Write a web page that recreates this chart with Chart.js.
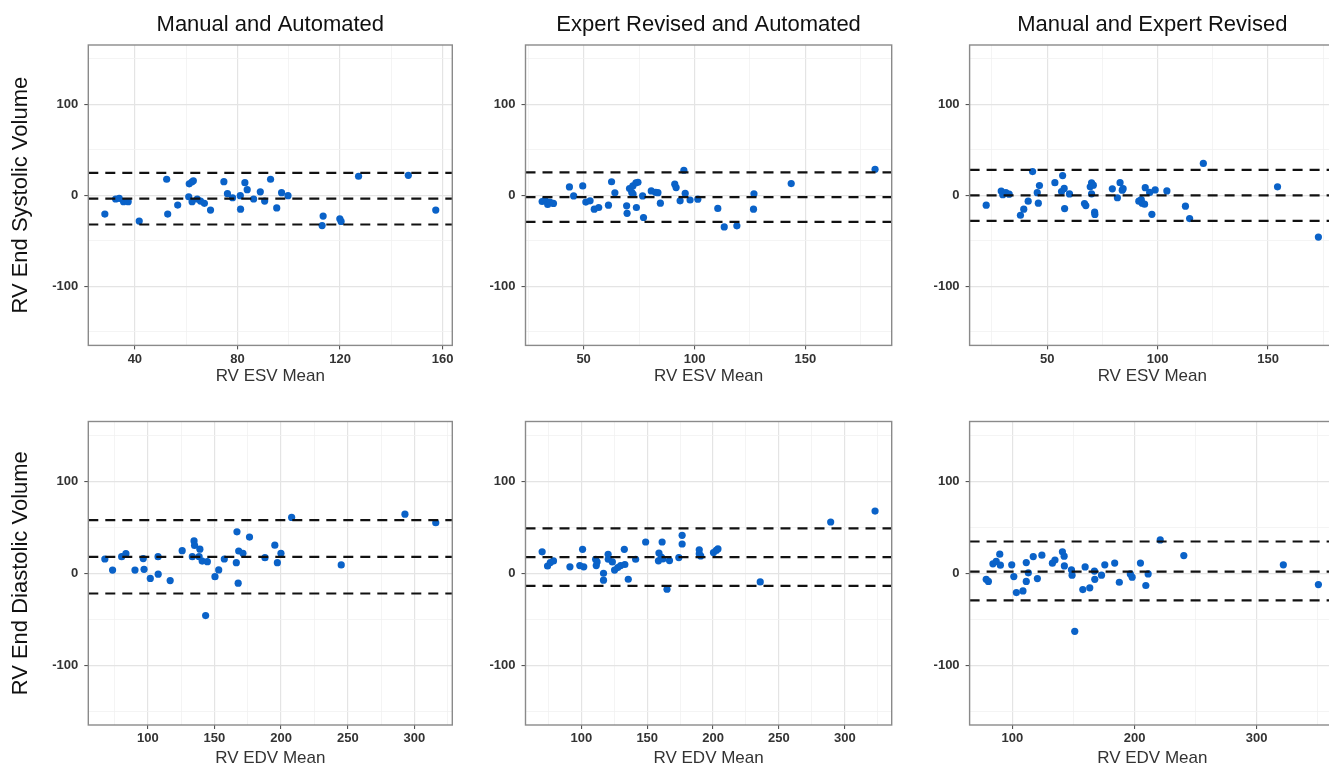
<!DOCTYPE html>
<html>
<head>
<meta charset="utf-8">
<title>RV volume agreement</title>
<script src="https://cdn.jsdelivr.net/npm/chart.js@4.4.1/dist/chart.umd.min.js"></script>
<style>
  html, body { margin: 0; padding: 0; background: #fff; overflow: hidden; width: 1329px; height: 767px; }
  canvas { position: absolute; display: block; }
</style>
</head>
<body>
<canvas id="esv-ma" width="462" height="395" style="left:0px;top:0px"></canvas>
<canvas id="esv-ea" width="444" height="395" style="left:462px;top:0px"></canvas>
<canvas id="esv-me" width="444" height="395" style="left:906px;top:0px"></canvas>
<canvas id="edv-ma" width="462" height="380" style="left:0px;top:395px"></canvas>
<canvas id="edv-ea" width="444" height="380" style="left:462px;top:395px"></canvas>
<canvas id="edv-me" width="444" height="380" style="left:906px;top:395px"></canvas>
<script>
// ---- labels ----
const panelTitles = ['Manual and Automated', 'Expert Revised and Automated', 'Manual and Expert Revised'];
const rowTitles = ['RV End Systolic Volume', 'RV End Diastolic Volume'];
const xAxisTitles = ['RV ESV Mean', 'RV EDV Mean'];

// ---- Bland-Altman points: [mean of the two methods, difference] ----
const esvManualAuto = [
  [28.3,-20.7],[32.5,-4.2],[33.9,-3.4],[35.6,-7.1],[37.4,-7.1],[41.7,-28.4],[52.4,17.5],[52.8,-20.7],
  [56.7,-10.8],[61.2,12.5],[62.2,14.5],[62.8,15.8],[61.0,-1.7],[62.3,-7.1],[64.3,-4.2],[65.6,-6.4],
  [67.1,-8.9],[69.5,-16.3],[74.7,14.9],[76.1,1.7],[78.1,-2.8],[81.1,-0.5],[81.2,-15.3],[82.9,13.8],
  [83.8,6.1],[86.3,-4.2],[88.9,3.7],[90.6,-6.4],[92.9,17.5],[95.3,-14.0],[97.2,2.8],[99.7,-0.5],
  [113.4,-22.9],[113.0,-33.4],[119.9,-26.0],[120.4,-28.8],[127.2,20.8],[146.6,21.8],[157.3,-16.3]
];
const esvExpertAuto = [
  [31.3,-6.9],[32.6,-5.3],[33.8,-10.2],[34.8,-7.5],[36.4,-9.0],[43.6,9.1],[45.5,-0.8],[49.6,10.2],
  [51.0,-7.6],[52.9,-6.2],[54.8,-15.4],[56.8,-13.5],[61.2,-11.0],[62.6,14.8],[64.1,2.6],[69.4,-11.7],
  [69.6,-19.9],[70.7,7.3],[71.7,3.0],[72.2,10.2],[72.3,1.1],[73.6,13.6],[74.5,14.2],[73.8,-13.5],
  [76.6,-0.8],[77.0,-24.5],[80.5,4.7],[82.5,3.0],[83.5,2.8],[84.6,-8.8],[91.1,12.1],[91.7,8.4],
  [93.5,-6.2],[95.2,27.4],[95.8,2.0],[98.0,-5.3],[101.5,-4.4],[110.5,-14.5],[113.4,-34.8],[119.1,-33.6],
  [126.6,-15.4],[126.8,1.5],[143.6,12.8],[181.4,28.5]
];
const esvManualExpert = [
  [22.4,-11.0],[29.2,4.6],[29.9,0.5],[31.3,2.8],[32.8,1.1],[37.9,-22.0],[39.4,-15.4],[41.4,-6.6],
  [43.4,26.0],[45.5,2.8],[46.0,-8.8],[46.5,10.6],[53.5,13.8],[57.0,21.6],[56.5,4.0],[57.7,7.4],
  [57.9,-14.7],[60.1,1.4],[66.9,-9.2],[67.5,-11.4],[69.5,9.2],[70.1,13.6],[70.9,11.0],[70.1,1.5],
  [71.5,-18.6],[71.6,-21.2],[79.5,7.0],[81.8,-2.8],[83.0,13.8],[84.4,7.2],[84.0,5.5],[91.5,-6.6],
  [92.6,-4.8],[93.0,-8.8],[94.1,-9.9],[94.4,8.3],[96.4,3.0],[97.4,-21.0],[98.9,5.8],[104.2,4.7],
  [112.6,-12.1],[114.5,-25.7],[120.7,34.9],[154.3,9.2],[172.8,-46.0]
];
const edvManualAuto = [
  [67.8,15.5],[73.6,3.4],[80.4,18.0],[83.6,21.3],[90.4,3.4],[96.6,16.0],[97.2,4.3],[101.9,-5.6],
  [107.7,18.0],[107.8,-1.0],[116.8,-8.0],[125.8,24.5],[133.4,18.0],[134.7,35.2],[135.1,30.3],[139.1,26.2],
  [138.5,18.0],[140.8,13.2],[144.7,12.6],[143.4,-46.0],[150.4,-3.7],[153.2,3.6],[157.4,15.5],[166.4,11.5],
  [166.9,45.0],[167.8,-10.8],[168.2,24.2],[171.4,21.7],[176.3,39.3],[187.9,16.9],[195.3,30.5],[197.2,11.5],
  [199.9,21.7],[207.9,60.7],[245.1,9.0],[292.9,64.2],[316.0,54.9]
];
const edvExpertAuto = [
  [70.2,23.3],[74.3,7.9],[76.4,11.6],[78.8,13.4],[91.3,7.0],[98.8,8.3],[101.8,7.0],[100.9,26.0],
  [110.8,15.2],[111.3,8.3],[111.9,12.3],[116.8,0.0],[116.8,-7.5],[120.3,20.6],[120.4,15.2],[123.5,12.3],
  [125.2,3.5],[127.6,6.2],[129.8,8.3],[133.0,9.5],[132.6,26.0],[135.6,-6.5],[141.2,15.2],[148.8,34.0],
  [158.9,22.0],[158.5,13.5],[160.6,17.5],[161.9,15.6],[166.9,13.8],[161.3,34.0],[165.0,-17.4],[174.0,17.0],
  [176.5,41.2],[176.5,31.8],[189.5,25.5],[189.5,21.2],[190.6,18.8],[200.3,22.5],[202.4,24.8],[203.7,26.4],
  [235.8,-9.4],[289.3,55.7],[323.0,67.6]
];
const edvManualExpert = [
  [78.5,-6.6],[80.3,-8.9],[84.0,10.2],[86.7,12.9],[89.6,20.7],[90.1,8.8],[99.4,9.2],[101.1,-3.6],
  [103.2,-21.0],[108.6,-19.2],[111.3,11.6],[111.3,-8.9],[113.0,0.5],[117.0,18.1],[120.4,-5.8],[124.1,19.6],
  [132.7,11.0],[134.8,14.3],[140.9,23.3],[142.3,18.6],[142.5,8.0],[148.3,3.7],[148.8,-2.1],[151.0,-63.1],
  [157.6,-17.7],[159.5,6.9],[163.3,-15.8],[167.1,2.4],[167.4,-6.6],[172.9,-2.1],[175.6,9.2],[183.7,11.1],
  [187.5,-9.8],[196.5,-0.7],[198.0,-4.3],[204.8,11.1],[209.2,-13.3],[211.1,-0.7],[221.0,36.2],[240.3,19.2],
  [321.8,9.2],[350.5,-12.3]
];

// ---- upper limit of agreement, mean bias, lower limit of agreement ----
const esvManualAutoLoA   = [24.6, -3.8, -32.2];
const esvExpertAutoLoA   = [25.0, -2.2, -29.4];
const esvManualExpertLoA = [27.8, -0.2, -28.2];
const edvManualAutoLoA   = [57.8, 17.9, -22.0];
const edvExpertAutoLoA   = [48.8, 17.5, -13.8];
const edvManualExpertLoA = [34.5, 1.7, -29.5];

// ---- axis ticks ----
const yRange = [-165, 165];
const yMajorTicks = [-100, 0, 100];
const yMinorTicks = [-150, -50, 50, 150];
const esvMajorTicks = [[40, 80, 120, 160], [50, 100, 150], [50, 100, 150]];
const esvMinorTicks = [[60, 100, 140], [25, 75, 125, 175], [25, 75, 125, 175]];
const edvMajorTicks = [[100, 150, 200, 250, 300], [100, 150, 200, 250, 300], [100, 200, 300]];
const edvMinorTicks = [[75, 125, 175, 225, 275, 325], [75, 125, 175, 225, 275, 325], [150, 250, 350]];

// ---- panel geometry ----
const FONT = '"Liberation Sans", Arial, Helvetica, sans-serif';
const colLayout = [
  { yAxisWidth: 88.3, padRight: 9.7 },
  { yAxisWidth: 63.5, padRight: 14.3 },
  { yAxisWidth: 63.6, padRight: 15 }
];
const rowLayout = [
  { padTop: 0,    xAxisHeight: 49.6, xTitlePad: 8.1 },
  { padTop: 26.5, xAxisHeight: 50,   xTitlePad: 6.5 }
];

const POINT_COLOR = '#0a62c8';
const GRID_MAJOR = '#e4e4e4';
const GRID_MINOR = '#f1f1f1';
const TICK_COLOR = '#444';
const LABEL_COLOR = '#333';

// outline drawn around each plotting panel
const panelBorder = {
  id: 'panelBorder',
  afterDraw(chart, args, opts) {
    const { ctx, chartArea: a } = chart;
    ctx.save();
    ctx.strokeStyle = opts.color;
    ctx.lineWidth = opts.width;
    ctx.strokeRect(a.left, a.top, a.right - a.left, a.bottom - a.top);
    ctx.restore();
  }
};

function tickList(majors, minors, lo, hi) {
  return majors.concat(minors).filter(v => v >= lo && v <= hi).sort((a, b) => a - b);
}

function makePanel(canvasId, row, col, points, loa, xMajors, xMinors) {
  const xs = points.map(p => p[0]);
  const lo = Math.min(...xs), hi = Math.max(...xs);
  const pad = (hi - lo) * 0.05;
  const xMin = lo - pad, xMax = hi + pad;
  const cl = colLayout[col], rl = rowLayout[row];

  const limitSets = loa.map(v => ({
    type: 'line',
    data: [{ x: xMin, y: v }, { x: xMax, y: v }],
    borderColor: '#111',
    borderWidth: 2.2,
    borderDash: [10, 7],
    pointRadius: 0,
    fill: false,
    order: 0
  }));

  const isMajorX = v => xMajors.includes(v);
  const isMajorY = v => yMajorTicks.includes(v);

  return new Chart(document.getElementById(canvasId), {
    type: 'scatter',
    data: {
      datasets: [
        ...limitSets,
        {
          data: points.map(p => ({ x: p[0], y: p[1] })),
          backgroundColor: POINT_COLOR,
          borderWidth: 0,
          pointRadius: 3.6,
          order: 1
        }
      ]
    },
    options: {
      responsive: false,
      animation: false,
      events: [],
      layout: { padding: { left: 0, right: cl.padRight, top: rl.padTop, bottom: 0 } },
      plugins: {
        legend: { display: false },
        tooltip: { enabled: false },
        title: {
          display: row === 0,
          text: panelTitles[col],
          fullSize: false,
          color: '#111',
          font: { family: FONT, size: 22, weight: 'normal', lineHeight: 1.2 },
          padding: { top: 11.3, bottom: 7.3 }
        },
        panelBorder: { color: '#8a8a8a', width: 1.4 }
      },
      scales: {
        x: {
          type: 'linear',
          min: xMin,
          max: xMax,
          afterBuildTicks: s => { s.ticks = tickList(xMajors, xMinors, xMin, xMax).map(v => ({ value: v })); },
          afterFit: s => { s.height = rl.xAxisHeight; s.paddingLeft = 0; s.paddingRight = 0; },
          ticks: {
            autoSkip: false,
            maxRotation: 0,
            padding: 2,
            color: LABEL_COLOR,
            font: { family: FONT, size: 13, weight: 'bold' },
            callback: v => isMajorX(v) ? String(v) : ''
          },
          grid: {
            color: c => isMajorX(c.tick.value) ? GRID_MAJOR : GRID_MINOR,
            lineWidth: c => isMajorX(c.tick.value) ? 1.2 : 0.8,
            drawTicks: true,
            tickLength: 4,
            tickColor: c => isMajorX(c.tick.value) ? TICK_COLOR : 'rgba(0,0,0,0)',
            tickWidth: 1
          },
          border: { display: false },
          title: {
            display: true,
            text: xAxisTitles[row],
            color: LABEL_COLOR,
            font: { family: FONT, size: 17, lineHeight: 1.2 },
            padding: { top: 0, bottom: rl.xTitlePad }
          }
        },
        y: {
          type: 'linear',
          min: yRange[0],
          max: yRange[1],
          afterBuildTicks: s => { s.ticks = tickList(yMajorTicks, yMinorTicks, yRange[0], yRange[1]).map(v => ({ value: v })); },
          afterFit: s => { s.width = cl.yAxisWidth; s.paddingTop = 0; s.paddingBottom = 0; },
          ticks: {
            autoSkip: false,
            padding: 6,
            color: LABEL_COLOR,
            font: { family: FONT, size: 13, weight: 'bold' },
            callback: v => isMajorY(v) ? String(v) : ''
          },
          grid: {
            color: c => isMajorY(c.tick.value) ? GRID_MAJOR : GRID_MINOR,
            lineWidth: c => isMajorY(c.tick.value) ? 1.2 : 0.8,
            drawTicks: true,
            tickLength: 4,
            tickColor: c => isMajorY(c.tick.value) ? TICK_COLOR : 'rgba(0,0,0,0)',
            tickWidth: 1
          },
          border: { display: false },
          title: {
            display: col === 0,
            text: rowTitles[row],
            color: '#111',
            font: { family: FONT, size: 22, lineHeight: 1.2 },
            padding: { top: 7.5, bottom: 0 }
          }
        }
      }
    },
    plugins: [panelBorder]
  });
}

makePanel('esv-ma', 0, 0, esvManualAuto,   esvManualAutoLoA,   esvMajorTicks[0], esvMinorTicks[0]);
makePanel('esv-ea', 0, 1, esvExpertAuto,   esvExpertAutoLoA,   esvMajorTicks[1], esvMinorTicks[1]);
makePanel('esv-me', 0, 2, esvManualExpert, esvManualExpertLoA, esvMajorTicks[2], esvMinorTicks[2]);
makePanel('edv-ma', 1, 0, edvManualAuto,   edvManualAutoLoA,   edvMajorTicks[0], edvMinorTicks[0]);
makePanel('edv-ea', 1, 1, edvExpertAuto,   edvExpertAutoLoA,   edvMajorTicks[1], edvMinorTicks[1]);
makePanel('edv-me', 1, 2, edvManualExpert, edvManualExpertLoA, edvMajorTicks[2], edvMinorTicks[2]);
</script>
</body>
</html>
